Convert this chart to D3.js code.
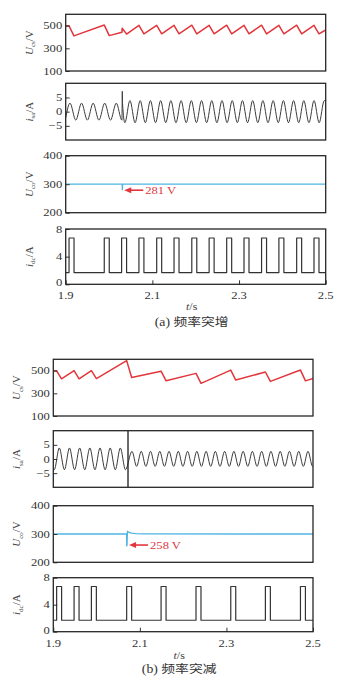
<!DOCTYPE html>
<html><head><meta charset="utf-8">
<script src="https://cdn.jsdelivr.net/npm/d3@7"></script>
<style>body{margin:0;background:#fff;} svg{display:block;}</style>
</head><body><svg id="c" width="356" height="684"></svg>
<script>
// ---------- data ----------
const xTicks = [1.9, 2.1, 2.3, 2.5];
const ucsTicks = [100, 300, 500];
const isaTicks = [-5, 0, 5];
const ucoTicks = [200, 300, 400];
const idcTicks = [0, 4, 8];

const ucsA = [[1.9,500],[1.9077,498],[1.919,410],[1.989,505],[2.0005,412],[2.0298,441],[2.0302,478],[2.0405,426],[2.069,503],[2.0805,428],
  [2.110,503],[2.1215,428],[2.150,503],[2.1615,428],[2.191,504],[2.2025,427],[2.231,503],[2.2425,428],[2.2715,504],[2.283,427],
  [2.3115,503],[2.323,428],[2.352,504],[2.3635,427],[2.392,503],[2.4035,428],[2.433,504],[2.4445,427],[2.473,503],[2.4845,428],[2.5,462]];
const ucsB = [[1.9,500],[1.9077,498],[1.919,428],[1.948,500],[1.9596,428],[1.988,500],[1.9996,430],[2.0695,588],[2.081,440],
  [2.149,495],[2.1606,410],[2.2297,476],[2.2413,388],[2.31,505],[2.3216,417],[2.39,488],[2.4016,405],[2.471,505],[2.4826,410],[2.5,432]];

const isaA = [[1.9,-2.2],[1.9099,3.0],[1.9233,-3.0],[1.9366,3.0],[1.95,-3.0],[1.9633,3.0],[1.9767,-3.0],[1.99,3.0],[2.0034,-3.0],[2.0167,3.0],[2.0298,-3.0],
  [2.0306,7.2],[2.0312,2.8],[2.0365,-3.9],[2.0483,3.9],[2.0601,-3.9],[2.0719,3.9],[2.0837,-3.9],[2.0955,3.9],[2.1073,-3.9],[2.1191,3.9],[2.1309,-3.9],
  [2.1427,3.9],[2.1545,-3.9],[2.1663,3.9],[2.1781,-3.9],[2.1899,3.9],[2.2017,-3.9],[2.2135,3.9],[2.2253,-3.9],[2.2371,3.9],[2.2489,-3.9],[2.2607,3.9],
  [2.2725,-3.9],[2.2843,3.9],[2.2961,-3.9],[2.3079,3.9],[2.3197,-3.9],[2.3315,3.9],[2.3433,-3.9],[2.3551,3.9],[2.3669,-3.9],[2.3787,3.9],[2.3905,-3.9],
  [2.4023,3.9],[2.4141,-3.9],[2.4259,3.9],[2.4377,-3.9],[2.4495,3.9],[2.4613,-3.9],[2.4731,3.9],[2.4849,-3.9],[2.4967,3.9],[2.5,3.7]];
const isaB = [[1.9,-3.6],[1.9022,-3.8],[1.9139,3.9],[1.9257,-3.8],[1.9374,3.9],[1.9492,-3.8],[1.9609,3.9],[1.9727,-3.8],[1.9844,3.9],[1.9962,-3.8],
  [2.0079,3.9],[2.0197,-3.8],[2.0314,3.9],[2.0432,-3.8],[2.0549,3.9],[2.0667,-3.8],[2.0818,2.7],[2.0925,-2.6],[2.1032,2.7],[2.1139,-2.6],[2.1246,2.7],
  [2.1353,-2.6],[2.146,2.7],[2.1567,-2.6],[2.1674,2.7],[2.1781,-2.6],[2.1888,2.7],[2.1995,-2.6],[2.2102,2.7],[2.2209,-2.6],[2.2316,2.7],[2.2423,-2.6],
  [2.253,2.7],[2.2637,-2.6],[2.2744,2.7],[2.2851,-2.6],[2.2958,2.7],[2.3065,-2.6],[2.3172,2.7],[2.3279,-2.6],[2.3386,2.7],[2.3493,-2.6],[2.36,2.7],
  [2.3707,-2.6],[2.3814,2.7],[2.3921,-2.6],[2.4028,2.7],[2.4135,-2.6],[2.4242,2.7],[2.4349,-2.6],[2.4456,2.7],[2.4563,-2.6],[2.467,2.7],[2.4777,-2.6],
  [2.4884,2.7],[2.4991,-2.6],[2.5,-2.5]];
const isaJumpB = [[2.0726,-10],[2.0726,10]];

const ucoA = [[1.9,300],[2.0305,300],[2.0307,281],[2.0313,300],[2.5,300]];
const ucoB = [[1.9,300],[2.0694,300],[2.0697,258],[2.0704,262],[2.0712,310],[2.074,306.5],[2.08,303],[2.09,301],[2.105,300.2],[2.5,300]];

const idcPulsesA = [1.9077,1.989,2.029,2.069,2.110,2.150,2.191,2.231,2.2715,2.3115,2.352,2.392,2.433,2.473];
const idcPulsesB = [1.9077,1.948,1.988,2.0695,2.149,2.2297,2.31,2.39,2.471];
const idcHigh = 6.7, idcLow = 1.7, pulseWidth = 0.0115;

const annA = {t: 2.0316, v: 279, label: '281 V'};
const annB = {t: 2.0716, v: 261, label: '258 V'};

// ---------- drawing ----------
const svg = d3.select('#c');
const SX = 1.2;
const serif = '"Liberation Serif","Times New Roman",serif';
const RED = '#e2363c', CYAN = '#4fb6e2', INK = '#333';

function stepPoints(pulses) {
  const pts = [[1.9, idcLow]];
  pulses.forEach(p => { pts.push([p, idcLow],[p, idcHigh],[p+pulseWidth, idcHigh],[p+pulseWidth, idcLow]); });
  pts.push([2.5, idcLow]);
  return pts;
}

function sText(g, x, y, anchor, size, str, color) {
  return g.append('text').attr('transform', `translate(${x},${y}) scale(${SX},1)`)
    .attr('text-anchor', anchor).attr('font-family', serif).attr('font-size', size)
    .attr('fill', color || INK).text(str);
}

function yTitle(g, x, y, main, sub, unit) {
  const t = g.append('text').attr('transform', `translate(${x},${y}) rotate(-90)`)
    .attr('text-anchor', 'middle').attr('font-family', serif).attr('font-size', 11).attr('fill', '#444');
  t.append('tspan').attr('font-style', 'italic').text(main);
  t.append('tspan').attr('font-size', 7).attr('dy', 2.5).text(sub);
  t.append('tspan').attr('dy', -2.5).text('/' + unit);
}

let clipId = 0;
function panel(x0, x1, y0, y1, domain, ticks, opts) {
  const g = svg.append('g');
  const x = d3.scaleLinear().domain([1.9, 2.5]).range([x0, x1]);
  const y = d3.scaleLinear().domain(domain).range([y1, y0]);
  const id = 'clip' + (clipId++);
  svg.append('clipPath').attr('id', id).append('rect').attr('x', x0).attr('y', y0).attr('width', x1 - x0).attr('height', y1 - y0);
  const data = g.append('g').attr('clip-path', `url(#${id})`);
  opts.series.forEach(s => {
    data.append('path').datum(s.data)
      .attr('d', d3.line().x(d => x(d[0])).y(d => y(d[1])).curve(s.curve || d3.curveLinear))
      .attr('fill', 'none').attr('stroke', s.color).attr('stroke-width', s.width).attr('stroke-linejoin', 'round');
  });
  // y axis ticks (inside) and labels
  const ya = d3.axisLeft(y).tickValues(ticks).tickSize(-4).tickFormat('');
  const yg = g.append('g').attr('transform', `translate(${x0},0)`).call(ya);
  yg.select('.domain').remove();
  yg.selectAll('line').attr('stroke', INK).attr('stroke-width', 1);
  ticks.forEach((v, i) => {
    const dy = (opts.xAxis && i === 0) ? 2 : 3.5;
    sText(g, x0 - 3.5, y(v) + dy, 'end', 10.5, v < 0 ? '\u2212' + Math.abs(v) : String(v));
  });
  if (opts.xAxis) {
    const xa = d3.axisBottom(x).tickValues(xTicks).tickSize(-4).tickFormat('');
    const xg = g.append('g').attr('transform', `translate(0,${y1})`).call(xa);
    xg.select('.domain').remove();
    xg.selectAll('line').attr('stroke', INK).attr('stroke-width', 1);
    xTicks.forEach(v => sText(g, x(v), opts.xLabelY, 'middle', 10.5, d3.format('.1f')(v)));
  }
  g.append('rect').attr('x', x0).attr('y', y0).attr('width', x1 - x0).attr('height', y1 - y0)
    .attr('fill', 'none').attr('stroke', '#262626').attr('stroke-width', 1.3);
  yTitle(g, x0 - 33, (y0 + y1) / 2, opts.title[0], opts.title[1], opts.title[2]);
  return {g, x, y};
}

function annotate(p, ann) {
  const tx = p.x(ann.t) + 1.5, ty = p.y(ann.v);
  p.g.append('line').attr('x1', tx + 5).attr('y1', ty).attr('x2', tx + 19).attr('y2', ty)
    .attr('stroke', RED).attr('stroke-width', 1.6);
  p.g.append('path').attr('d', `M${tx},${ty}L${tx + 7},${ty - 3}L${tx + 7},${ty + 3}Z`).attr('fill', RED);
  sText(p.g, tx + 21, ty + 4, 'start', 10.5, ann.label, RED);
}

const figs = [
  {x0: 65.7, x1: 325.7, rows: [[14.3, 71], [83.3, 140], [155.7, 212.7], [229, 284.3]], xLabelY: 298.5, tsY: 310, capY: 326,
   cap: '(a) 频率突增', ucs: ucsA, isa: isaA, jump: null, uco: ucoA, pulses: idcPulsesA, ann: annA},
  {x0: 53.3, x1: 313, rows: [[359.3, 416], [430.7, 487.3], [505.7, 562.3], [577.7, 631.7]], xLabelY: 646.5, tsY: 658.5, capY: 673,
   cap: '(b) 频率突减', ucs: ucsB, isa: isaB, jump: isaJumpB, uco: ucoB, pulses: idcPulsesB, ann: annB}
];

figs.forEach(f => {
  panel(f.x0, f.x1, f.rows[0][0], f.rows[0][1], [100, 600], ucsTicks,
    {series: [{data: f.ucs, color: RED, width: 1.5}], title: ['U', 'cs', 'V']});
  const isaSeries = [{data: f.isa, color: '#3c3c3c', width: 1, curve: d3.curveMonotoneX}];
  if (f.jump) isaSeries.push({data: f.jump, color: '#2a2a2a', width: 1.4});
  panel(f.x0, f.x1, f.rows[1][0], f.rows[1][1], [-10, 10], isaTicks,
    {series: isaSeries, title: ['i', 'sa', 'A']});
  const p3 = panel(f.x0, f.x1, f.rows[2][0], f.rows[2][1], [200, 400], ucoTicks,
    {series: [{data: f.uco, color: CYAN, width: 1.3}], title: ['U', 'co', 'V']});
  annotate(p3, f.ann);
  panel(f.x0, f.x1, f.rows[3][0], f.rows[3][1], [0, 8], idcTicks,
    {series: [{data: stepPoints(f.pulses), color: '#333', width: 1.2}], title: ['i', 'dc', 'A'], xAxis: true, xLabelY: f.xLabelY});
  const cx = (f.x0 + f.x1) / 2 - 4;
  const ts = svg.append('text').attr('transform', `translate(${cx},${f.tsY}) scale(${SX},1)`)
    .attr('text-anchor', 'middle').attr('font-family', serif).attr('font-size', 10).attr('fill', '#444');
  ts.append('tspan').attr('font-style', 'italic').text('t');
  ts.append('tspan').text('/s');
  svg.append('text').attr('transform', `translate(${cx},${f.capY}) scale(${SX},1)`)
    .attr('text-anchor', 'middle').attr('font-family', '"Liberation Serif","Noto Sans CJK SC",serif')
    .attr('font-size', 11.5).attr('fill', '#333').text(f.cap);
});
</script>
</body></html>
